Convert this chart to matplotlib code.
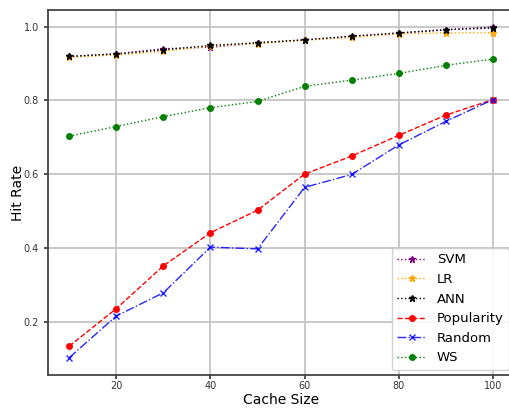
import matplotlib
matplotlib.use("Agg")
import matplotlib.pyplot as plt

cache_size = [10, 20, 30, 40, 50, 60, 70, 80, 90, 100]

svm = [0.919, 0.926, 0.940, 0.944, 0.956, 0.964, 0.973, 0.982, 0.991, 0.999]
lr = [0.917, 0.923, 0.933, 0.947, 0.954, 0.963, 0.971, 0.980, 0.983, 0.983]
ann = [0.919, 0.926, 0.937, 0.949, 0.956, 0.964, 0.974, 0.983, 0.992, 0.996]
popularity = [0.133, 0.235, 0.351, 0.441, 0.502, 0.600, 0.649, 0.705, 0.760, 0.802]
random_ = [0.102, 0.215, 0.278, 0.402, 0.397, 0.564, 0.599, 0.679, 0.743, 0.802]
ws = [0.703, 0.729, 0.756, 0.780, 0.797, 0.838, 0.855, 0.873, 0.895, 0.912]

fig = plt.figure(figsize=(5.10, 4.09), dpi=100)
ax = fig.add_axes([0.0941, 0.0831, 0.914, 0.8924])

ax.grid(True, color="#c4c4c4", linewidth=1.3, zorder=0)
ax.set_axisbelow(True)

lw = 1.0
ax.plot(cache_size, svm, color="purple", linestyle=":", linewidth=lw, marker="*", markersize=5, label="SVM")
ax.plot(cache_size, lr, color="orange", linestyle=":", linewidth=lw, marker="*", markersize=5, label="LR")
ax.plot(cache_size, ann, color="black", linestyle=":", linewidth=lw, marker="*", markersize=5, label="ANN")
ax.plot(cache_size, popularity, color="red", linestyle="--", linewidth=lw, marker="o", markersize=4, label="Popularity")
ax.plot(cache_size, random_, color="blue", linestyle="-.", linewidth=lw, marker="x", markersize=4.5, label="Random", alpha=0.85)
ax.plot(cache_size, ws, color="green", linestyle=":", linewidth=lw, marker="o", markersize=4, label="WS")

ax.set_xlim(5.5, 104.5)
ax.set_ylim(0.055, 1.045)
ax.set_xticks([20, 40, 60, 80, 100])
ax.set_yticks([0.2, 0.4, 0.6, 0.8, 1.0])
ax.tick_params(axis="both", labelsize=7, colors="#333333", length=3, width=1.2)
ax.tick_params(axis="x", pad=1.5)

for side in ["left", "bottom", "top"]:
    ax.spines[side].set_color("#444444")
    ax.spines[side].set_linewidth(1.3)
ax.spines["right"].set_visible(False)

ax.set_xlabel("Cache Size", fontsize=10, labelpad=1)
ax.set_ylabel("Hit Rate", fontsize=10, labelpad=-1)

ax.legend(loc="lower right", fontsize=9.5, framealpha=0.9, handlelength=2.2,
          borderaxespad=0.4)

fig.savefig("out.png", dpi=100)
